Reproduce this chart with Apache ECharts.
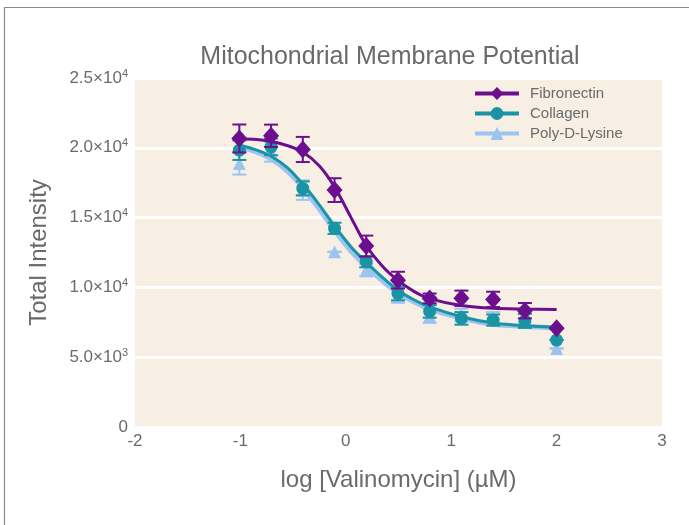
<!DOCTYPE html>
<html>
<head>
<meta charset="utf-8">
<script src="https://cdn.jsdelivr.net/npm/echarts@6/dist/echarts.min.js"></script>
<style>
html,body{margin:0;padding:0;background:#fff;}
#main{width:689px;height:525px;}
</style>
</head>
<body>
<div id="main"></div>
<script>
// log10 concentration (2-fold dilution from 100 µM)
var xValues = [-1.010, -0.709, -0.408, -0.107, 0.194, 0.495, 0.796, 1.097, 1.398, 1.699, 2.000];

var fibronectin = [20670, 20860, 19880, 16970, 12960, 10520, 9210, 9220, 9140, 8330, 7070];
var fibronectinErr = [1000, 800, 900, 850, 750, 600, 350, 550, 550, 550, 0];

var collagen = [19830, 20070, 17090, 14230, 11840, 9570, 8280, 7780, 7660, 7600, 6230];
var collagenErr = [700, 600, 500, 400, 400, 500, 450, 450, 400, 500, 0];

var polyDLysine = [18880, 19710, 16970, 12550, 11240, 9450, 7960, 8020, 7780, 7700, 5630];
var polyDLysineErr = [800, 700, 700, 0, 450, 550, 500, 450, 450, 450, 0];

// fitted curves
var fitX = [-1.010, -0.850, -0.709, -0.550, -0.408, -0.250, -0.107, 0.050, 0.194, 0.350, 0.495, 0.650, 0.796, 1.097, 1.398, 1.699, 2.000];
var fibronectinFit = [20650, 20600, 20450, 20150, 19700, 18700, 17200, 15000, 13000, 11500, 10500, 9700, 9200, 8700, 8500, 8450, 8420];
var collagenFit = [20200, 19850, 19400, 18550, 17400, 15900, 14400, 12900, 11800, 10700, 9800, 9100, 8600, 7900, 7450, 7250, 7150];
var polyDLysineFit = [20100, 19700, 19200, 18300, 17150, 15600, 14100, 12600, 11500, 10450, 9600, 8950, 8450, 7800, 7350, 7200, 7100];

var seriesNames = ['Fibronectin', 'Collagen', 'Poly-D-Lysine'];
var yTickLabels = {0: ['0', ''], 5000: ['5.0×10', '3'], 10000: ['1.0×10', '4'], 15000: ['1.5×10', '4'], 20000: ['2.0×10', '4'], 25000: ['2.5×10', '4']};
var xTickLabels = ['-2', '-1', '0', '1', '2', '3'];

var colors = ['#6b0f8f', '#1a94a4', '#9dc4f0'];
var symbols = ['diamond', 'circle', 'triangle'];
var symbolSizes = [[16, 18], 13, 13];
var fitWidths = [3, 3, 5];

function pairs(xs, ys) { return xs.map(function (x, i) { return [x, ys[i]]; }); }

var pointSets = [fibronectin, collagen, polyDLysine];
var errSets = [fibronectinErr, collagenErr, polyDLysineErr];
var fitSets = [fibronectinFit, collagenFit, polyDLysineFit];

var series = [];
[2, 1, 0].forEach(function (k) {
  series.push({
    name: seriesNames[k], type: 'line', data: pairs(fitX, fitSets[k]), smooth: 0.3,
    showSymbol: false, symbol: symbols[k], symbolSize: 14,
    lineStyle: { color: colors[k], width: fitWidths[k] }, itemStyle: { color: colors[k] },
    z: 3 + (2 - k) * 3, silent: true
  });
});
[2, 1, 0].forEach(function (k) {
  var ys = pointSets[k], es = errSets[k];
  series.push({
    name: seriesNames[k], type: 'custom',
    data: xValues.map(function (x, i) { return [x, ys[i] - es[i], ys[i] + es[i]]; }),
    renderItem: function (params, api) {
      var lo = api.coord([api.value(0), api.value(1)]);
      var hi = api.coord([api.value(0), api.value(2)]);
      var w = 7;
      var st = { stroke: colors[k], lineWidth: 2 };
      return { type: 'group', children: [
        { type: 'line', shape: { x1: lo[0], y1: lo[1], x2: hi[0], y2: hi[1] }, style: st },
        { type: 'line', shape: { x1: lo[0] - w, y1: lo[1], x2: lo[0] + w, y2: lo[1] }, style: st },
        { type: 'line', shape: { x1: hi[0] - w, y1: hi[1], x2: hi[0] + w, y2: hi[1] }, style: st }
      ]};
    },
    encode: { x: 0, y: [1, 2] },
    z: 4 + (2 - k) * 3, silent: true
  });
  series.push({
    name: seriesNames[k], type: 'scatter', data: pairs(xValues, ys),
    symbol: symbols[k], symbolSize: symbolSizes[k],
    itemStyle: { color: colors[k], opacity: 1 },
    z: 5 + (2 - k) * 3, silent: true
  });
});

var chart = echarts.init(document.getElementById('main'), null, { renderer: 'canvas' });
chart.setOption({
  backgroundColor: '#ffffff',
  animation: false,
  textStyle: { fontFamily: 'Liberation Sans' },
  graphic: [{
    type: 'rect', shape: { x: 4.5, y: 7.5, width: 760, height: 600 },
    style: { fill: 'none', stroke: '#8a8a8a', lineWidth: 1.2 }, z: 100, silent: true
  }],
  title: {
    text: 'Mitochondrial Membrane Potential', left: 385, top: 40, textAlign: 'center',
    textStyle: { fontSize: 25, fontWeight: 'normal', color: '#6a6a6a', fontFamily: 'Liberation Sans' }
  },
  legend: {
    data: seriesNames, orient: 'vertical', left: 468, top: 81,
    itemWidth: 44, itemHeight: 16, itemGap: 5,
    lineStyle: { width: 4 },
    textStyle: { fontSize: 15, color: '#6a6a6a', padding: [0, 0, 0, 6] }
  },
  grid: {
    left: 135, right: 27, top: 78, bottom: 98,
    show: true, backgroundColor: '#f7efe4', borderWidth: 0
  },
  xAxis: {
    type: 'value', min: -2, max: 3, interval: 1,
    name: 'log [Valinomycin] (µM)', nameLocation: 'middle', nameGap: 41,
    nameTextStyle: { fontSize: 24, color: '#6a6a6a' },
    axisLine: { show: false }, axisTick: { show: false }, splitLine: { show: false },
    axisLabel: { fontSize: 17, color: '#6a6a6a', margin: 6,
      formatter: function (v) { return xTickLabels[Math.round(v) + 2]; } }
  },
  yAxis: {
    type: 'value', min: 0, max: 25000, interval: 5000,
    name: 'Total Intensity', nameLocation: 'middle', nameGap: 84,
    nameTextStyle: { fontSize: 24, color: '#6a6a6a' },
    axisLine: { show: false }, axisTick: { show: false },
    splitLine: { show: true, lineStyle: { color: '#ffffff', width: 3 } },
    axisLabel: {
      margin: 7, color: '#6a6a6a',
      formatter: function (v) {
        var t = yTickLabels[v];
        return t[1] ? '{b|' + t[0] + '}{s|' + t[1] + '}' : '{b|' + t[0] + '}';
      },
      rich: {
        b: { fontSize: 17, color: '#6a6a6a', lineHeight: 20 },
        s: { fontSize: 11, color: '#6a6a6a', verticalAlign: 'top', lineHeight: 20, padding: [0, 0, 7, 0] }
      }
    }
  },
  series: series
});
</script>
</body>
</html>
